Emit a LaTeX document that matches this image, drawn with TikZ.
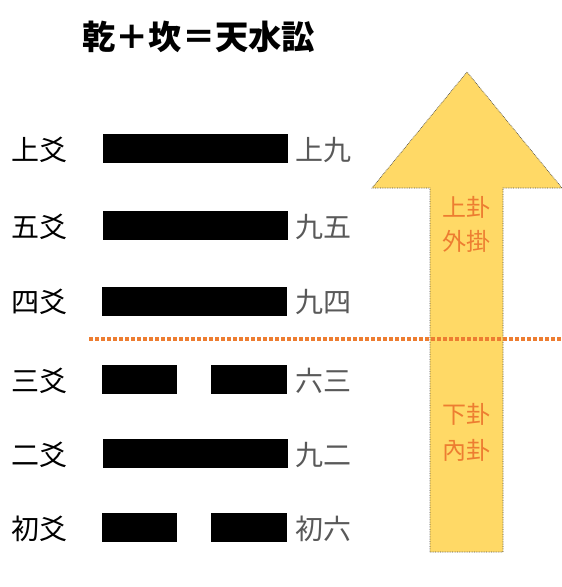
\documentclass[tikz,border=0pt]{standalone}
\usepackage{fontspec}
\newfontfamily\jp{Noto Sans CJK JP}
\definecolor{arrowfill}{HTML}{FFD966}
\definecolor{orangetxt}{HTML}{ED7D31}
\definecolor{graytxt}{HTML}{595959}
\begin{document}
\begin{tikzpicture}[x=1pt,y=-1pt,
  lefttxt/.style={anchor=west,inner sep=0pt,font=\jp\fontsize{28}{28}\selectfont,text=black},
  righttxt/.style={anchor=west,inner sep=0pt,font=\jp\fontsize{28}{28}\selectfont,text=graytxt},
  guatxt/.style={inner sep=0pt,font=\jp\fontsize{24}{24}\selectfont,text=orangetxt},
  bar/.style={fill=black}]
\useasboundingbox (0,0) rectangle (562,587);
% title
\node[anchor=west,inner sep=0pt,font=\jp\bfseries\fontsize{33.3}{33.3}\selectfont] (title) at (82,37) {乾＋坎＝天水訟};
% arrow
\draw[fill=arrowfill,draw=black!70,line width=0.7pt,densely dotted]
  (430,552) -- (430,188) -- (372,188) -- (467,72) -- (562,188) -- (503,188) -- (503,552) -- cycle;
\node[guatxt] (g1) at (466,207) {上卦};
\node[guatxt] (g2) at (466,241) {外掛};
\node[guatxt] (g3) at (466,414) {下卦};
\node[guatxt] (g4) at (466,450) {內卦};
% divider
\coordinate (d1) at (89,339);
\coordinate (d2) at (562,339);
\draw[orangetxt,line width=3.5pt,dash pattern=on 3.5pt off 2.5pt] (d1) -- (d2);
% bars
\fill[bar] (103,134) rectangle (288,163);
\fill[bar] (103,211) rectangle (288,240);
\fill[bar] (102,287) rectangle (287,316);
\fill[bar] (102,365) rectangle (177,394);
\fill[bar] (211,365) rectangle (287,394);
\fill[bar] (103,439) rectangle (288,468);
\fill[bar] (102,513) rectangle (177,542);
\fill[bar] (211,513) rectangle (287,542);
% left labels
\node[lefttxt] (l6) at (11,150) {上爻};
\node[lefttxt] (l5) at (11,227) {五爻};
\node[lefttxt] (l4) at (11,302) {四爻};
\node[lefttxt] (l3) at (11,381) {三爻};
\node[lefttxt] (l2) at (11,455) {二爻};
\node[lefttxt] (l1) at (11,529) {初爻};
% right labels
\node[righttxt] (r6) at (295,150) {上九};
\node[righttxt] (r5) at (295,227) {九五};
\node[righttxt] (r4) at (295,302) {九四};
\node[righttxt] (r3) at (295,381) {六三};
\node[righttxt] (r2) at (295,455) {九二};
\node[righttxt] (r1) at (295,529) {初六};
\end{tikzpicture}
\end{document}
